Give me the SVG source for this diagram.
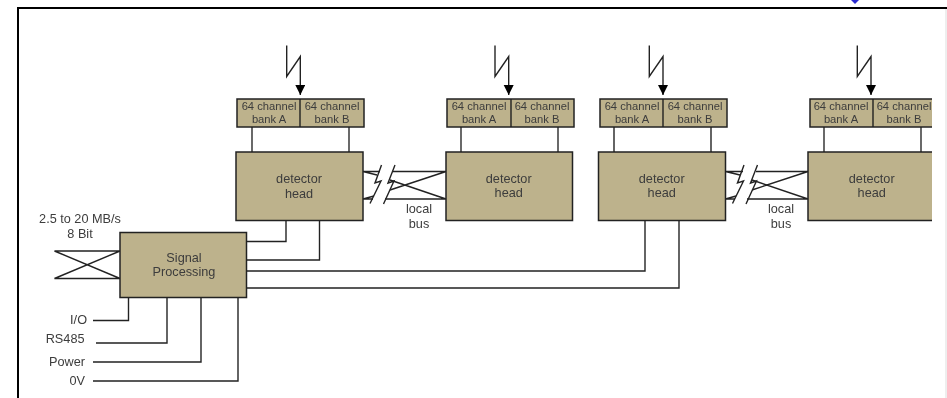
<svg xmlns="http://www.w3.org/2000/svg" width="947" height="398" viewBox="0 0 947 398">
<defs>
<filter id="soft" x="-2%" y="-2%" width="104%" height="104%"><feGaussianBlur stdDeviation="0.45"/></filter>
<marker id="arrow" markerUnits="userSpaceOnUse" markerWidth="11" markerHeight="11" refX="10" refY="5" orient="auto"><path d="M0 0L10 5L0 10Z" fill="#000"/></marker>
</defs>
<style>
text{font-family:"Liberation Sans",Arial,sans-serif;fill:#3c3c3c;text-anchor:middle}
.b{font-size:11.2px}
.h{font-size:12.700px}
.l{font-size:12.700px}
.e{text-anchor:end}
.box{fill:#bdb28c;stroke:#222;stroke-width:1.500}
.w{fill:none;stroke:#222;stroke-width:1.400}
.g{fill:none;stroke:#444;stroke-width:1.600}
</style>
<rect width="947" height="398" fill="#fff"/>
<g filter="url(#soft)">
<g id="frame">
<path d="M18 398V8H947" fill="none" stroke="#000" stroke-width="2"/>
<path d="M946 9V398" fill="none" stroke="#ddd" stroke-width="1"/>
<path d="M851 0H859L855 4Z" fill="#2a2ad0"/>
</g>
<g id="connectors">
<path class="w" d="M246 241.500H286V220M246 260H319.500V220M246 271H645V220M246 288H679V220"/>
<path class="w" d="M128.500 297V320.500H93M167 297V343H96M201 297V362H93M238 297V381H93"/>
<path class="w" d="M120 251H54.500L120 278.500H54.500L120 251"/>
<path class="g" d="M252 127V152M349 127V152M461 127V152M558 127V152"/>
<path class="w" d="M614 127V152M711 127V152"/>
<path class="g" d="M824 127V152M921 127V152"/>
<path class="w" marker-end="url(#arrow)" d="M286.700 45.500V76.500L300.300 56.500V95"/>
<path class="w" marker-end="url(#arrow)" d="M495 45.500V76.500L508.700 56.500V95"/>
<path class="w" marker-end="url(#arrow)" d="M649.300 45.500V76.500L663 56.500V95"/>
<path class="w" marker-end="url(#arrow)" d="M857.300 45.500V76.500L871 56.500V95"/>
<g id="bus1">
<path class="w" d="M363 171.500H380M363 171.500L377 175M363 199H373M363 199L374 196M393 171.500H446M446 171.500L390 190M390 180L446 199M385 199H446"/>
<path class="w" d="M381.500 165L375 183L381 181L370 203.500M395 165L388 183L394 181L383.500 204"/>
</g>
<g id="bus2">
<path class="w" d="M725.500 171.500H743M725.500 171.500L740 175M725.500 199H735M725.500 199L736 196M756 171.500H808M808 171.500L752 190M752 180L808 199M747 199H808"/>
<path class="w" d="M744 165L737.500 183L743.500 181L732.500 203.500M757.500 165L750.500 183L756.500 181L746 204"/>
</g>
</g>
<g id="bank1"><rect class="box" x="237" y="99" width="127" height="28"/><path class="w" d="M300 99V127"/><text class="b" x="269" y="110">64 channel</text><text class="b" x="269" y="123">bank A</text><text class="b" x="332" y="110">64 channel</text><text class="b" x="332" y="123">bank B</text></g>
<g id="bank2"><rect class="box" x="447" y="99" width="127" height="28"/><path class="w" d="M511 99V127"/><text class="b" x="479" y="110">64 channel</text><text class="b" x="479" y="123">bank A</text><text class="b" x="542" y="110">64 channel</text><text class="b" x="542" y="123">bank B</text></g>
<g id="bank3"><rect class="box" x="600" y="99" width="127" height="28"/><path class="w" d="M663 99V127"/><text class="b" x="632" y="110">64 channel</text><text class="b" x="632" y="123">bank A</text><text class="b" x="695" y="110">64 channel</text><text class="b" x="695" y="123">bank B</text></g>
<g id="bank4"><path class="box" d="M932 99H810V127H932"/><path class="w" d="M873 99V127"/><text class="b" x="841" y="110">64 channel</text><text class="b" x="841" y="123">bank A</text><text class="b" x="904" y="110">64 channel</text><text class="b" x="904" y="123">bank B</text></g>
<g id="head1"><rect class="box" x="236" y="152" width="127" height="68.500"/><text class="h" x="299" y="183">detector</text><text class="h" x="299" y="198">head</text></g>
<g id="head2"><rect class="box" x="446" y="152" width="126.500" height="68.500"/><text class="h" x="508.700" y="183">detector</text><text class="h" x="508.700" y="197">head</text></g>
<g id="head3"><rect class="box" x="598.500" y="152" width="127" height="68.500"/><text class="h" x="661.700" y="183">detector</text><text class="h" x="661.700" y="197">head</text></g>
<g id="head4"><path class="box" d="M932 152H808V220.500H932"/><text class="h" x="871.700" y="183">detector</text><text class="h" x="871.700" y="197">head</text></g>
<g id="signal"><rect class="box" x="120" y="232.500" width="126.500" height="65"/><text class="h" x="184" y="261.500">Signal</text><text class="h" x="184" y="276">Processing</text></g>
<g id="labels">
<text class="l" x="419" y="213">local</text><text class="l" x="419" y="228">bus</text>
<text class="l" x="781" y="213">local</text><text class="l" x="781" y="228">bus</text>
<text class="l" x="80" y="223">2.5 to 20 MB/s</text><text class="l" x="80" y="238">8 Bit</text>
<text class="l e" x="87" y="323.500">I/O</text><text class="l e" x="84.500" y="343">RS485</text><text class="l e" x="85" y="366">Power</text><text class="l e" x="85" y="385">0V</text>
</g>
</g>
</svg>
